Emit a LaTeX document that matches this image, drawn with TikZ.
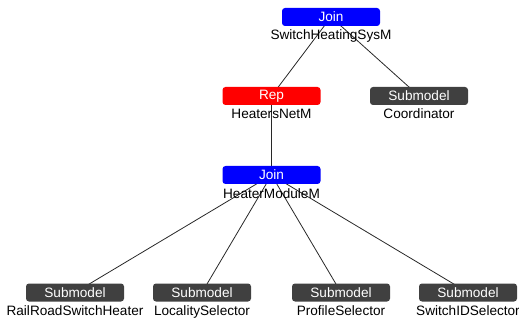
\documentclass[tikz,border=0pt]{standalone}
\usepackage{fontspec}
\setmainfont{Liberation Sans}
\usetikzlibrary{backgrounds}
\definecolor{joinblue}{RGB}{0,0,255}
\definecolor{repred}{RGB}{255,0,0}
\definecolor{subgray}{RGB}{64,64,64}
\definecolor{edgegray}{RGB}{40,40,40}
\tikzset{
  box/.style={rounded corners=3pt, minimum width=98pt, minimum height=18pt, inner sep=0pt, text=white, font=\fontsize{13.6}{15}\selectfont},
  joinbox/.style={box, fill=joinblue},
  repbox/.style={box, fill=repred},
  subbox/.style={box, fill=subgray},
  lbl/.style={anchor=base, inner sep=0pt, font=\fontsize{13.6}{15}\selectfont, text=black},
  edge/.style={draw=edgegray, line width=0.8pt}
}
\begin{document}
\begin{tikzpicture}[x=1pt,y=-1pt]
\useasboundingbox (0,0) rectangle (519,323);
\node[joinbox] (j1) at (331,17) {Join};
\node[lbl] (j1l) at (331,40) {SwitchHeatingSysM};
\node[repbox] (rep) at (271.5,96) {Rep};
\node[lbl] (repl) at (271.5,119) {HeatersNetM};
\node[subbox] (co) at (419,96) {Submodel};
\node[lbl] (col) at (419,119) {Coordinator};
\node[joinbox] (j2) at (271.5,175) {Join};
\node[lbl] (j2l) at (271.5,198) {HeaterModuleM};
\node[subbox] (s1) at (75,292.5) {Submodel};
\node[lbl] (s1l) at (75,315.5) {RailRoadSwitchHeater};
\node[subbox] (s2) at (202,292.5) {Submodel};
\node[lbl] (s2l) at (202,315.5) {LocalitySelector};
\node[subbox] (s3) at (341,292.5) {Submodel};
\node[lbl] (s3l) at (341,315.5) {ProfileSelector};
\node[subbox] (s4) at (468,292.5) {Submodel};
\node[lbl] (s4l) at (468,315.5) {SwitchIDSelector};
\begin{scope}[on background layer]
\draw[edge] (j1.center) -- (rep.center);
\draw[edge] (j1.center) -- (co.center);
\draw[edge] (rep.center) -- (j2.center);
\draw[edge] (j2.center) -- (s1.center);
\draw[edge] (j2.center) -- (s2.center);
\draw[edge] (j2.center) -- (s3.center);
\draw[edge] (j2.center) -- (s4.center);
\end{scope}
\end{tikzpicture}
\end{document}
